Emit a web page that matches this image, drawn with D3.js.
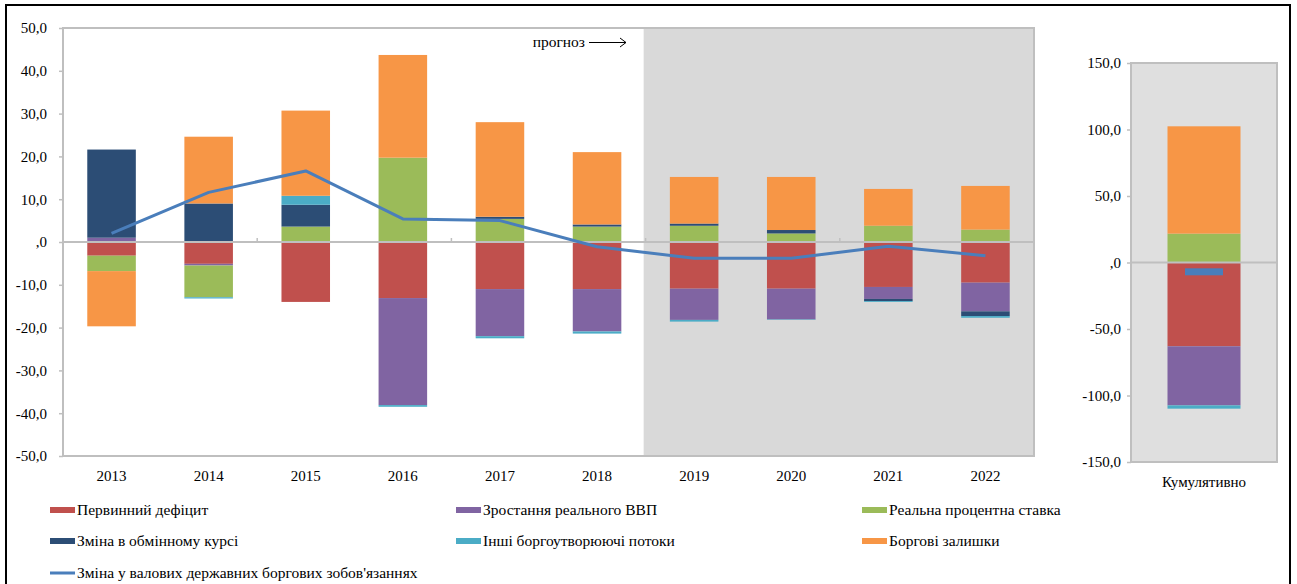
<!DOCTYPE html>
<html>
<head>
<meta charset="utf-8">
<script src="https://cdn.jsdelivr.net/npm/d3@7"></script>
<style>
  body { margin: 0; background: #fff; }
  svg text { font-family: "Liberation Serif", "Times New Roman", "DejaVu Serif", serif !important; fill: #000; }
</style>
</head>
<body>
<svg id="chart" width="1297" height="584"></svg>
<script>
const years = ["2013", "2014", "2015", "2016", "2017", "2018", "2019", "2020", "2021", "2022"];
const forecastFrom = "2019";

const seriesNames = [
  "Первинний дефіцит",
  "Зростання реального ВВП",
  "Реальна процентна ставка",
  "Зміна в обмінному курсі",
  "Інші боргоутворюючі потоки",
  "Боргові залишки"
];
const seriesColors = ["#C0504D", "#8064A2", "#9BBB59", "#2C4D75", "#4BACC6", "#F79646"];

const primaryDeficit   = [-3.2, -5.1, -14.0, -13.1, -11.0, -11.0, -10.9, -10.9, -10.5, -9.5];
const realGdpGrowth    = [1.0, -0.4, 0.0, -25.0, -11.0, -9.9, -7.3, -7.2, -2.8, -6.7];
const realInterestRate = [-3.6, -7.4, 3.6, 19.7, 5.4, 3.6, 3.8, 2.0, 3.8, 2.9];
const exchangeRate     = [20.6, 9.0, 5.1, 0.0, 0.5, 0.5, 0.5, 0.8, -0.5, -1.1];
const otherFlows       = [0.0, -0.3, 2.1, -0.4, -0.5, -0.5, -0.4, -0.1, -0.2, -0.4];
const debtResidual     = [-12.9, 15.6, 19.9, 24.0, 22.1, 16.9, 10.9, 12.4, 8.6, 10.2];

const lineName = "Зміна у валових державних боргових зобов'язаннях";
const lineColor = "#4A7EBB";
const debtChange = [2.0, 11.6, 16.6, 5.4, 5.0, -1.1, -3.8, -3.8, -1.0, -3.2];

const cumulativeLabel = "Кумулятивно";
const cumulativeValues = [-63.0, -44.4, 21.7, 0.0, -2.5, 80.7];
const cumulativeLine = -7.0;

const mainTicks = [-50, -40, -30, -20, -10, 0, 10, 20, 30, 40, 50];
const cumTicks = [-150, -100, -50, 0, 50, 100, 150];

const svg = d3.select("#chart").style("font-family", "Liberation Serif, serif");
const fmt = (d) => (d === 0 ? ",0" : d.toFixed(1).replace(".", ","));
const serif = "Liberation Serif, Times New Roman, serif";

const main = { left: 63, right: 1034, top: 28, bottom: 456 };
const cum = { left: 1131, right: 1277, top: 63, bottom: 462 };

const allSeries = [primaryDeficit, realGdpGrowth, realInterestRate, exchangeRate, otherFlows, debtResidual];
const rows = years.map((y, i) => {
  const r = { year: y };
  allSeries.forEach((s, k) => { r[k] = s[i]; });
  return r;
});

const xscale = d3.scaleBand().domain(years).range([main.left, main.right]).paddingInner(0.5).paddingOuter(0.25);
const yscale = d3.scaleLinear().domain([-50, 50]).range([main.bottom, main.top]);

const cx = d3.scaleBand().domain([cumulativeLabel]).range([cum.left, cum.right]).paddingInner(0.5).paddingOuter(0.25);
const cy = d3.scaleLinear().domain([-150, 150]).range([cum.bottom, cum.top]);

const stack = d3.stack().keys(d3.range(seriesNames.length)).offset(d3.stackOffsetDiverging);

const addFrame = () => {
  // outer black frame
  svg.append("rect")
    .attr("x", 6).attr("y", 5).attr("width", 1284).attr("height", 620)
    .attr("fill", "none").attr("stroke", "#000").attr("stroke-width", 2);

  svg.append("rect")
    .attr("x", main.left).attr("y", main.top)
    .attr("width", main.right - main.left).attr("height", main.bottom - main.top)
    .attr("fill", "#fff");

  const fx = xscale(forecastFrom) - xscale.step() * 0.27;
  svg.append("rect")
    .attr("x", fx).attr("y", main.top)
    .attr("width", main.right - fx).attr("height", main.bottom - main.top)
    .attr("fill", "#D9D9D9");

  svg.append("rect")
    .attr("x", cum.left).attr("y", cum.top)
    .attr("width", cum.right - cum.left).attr("height", cum.bottom - cum.top)
    .attr("fill", "#DFDFDF");
};

const addBars = () => {
  const stacked = stack(rows);
  svg.append("g")
    .selectAll("g")
    .data(stacked)
    .join("g")
    .attr("fill", (d, i) => seriesColors[i])
    .selectAll("rect")
    .data((d) => d)
    .join("rect")
    .attr("x", (d) => xscale(d.data.year))
    .attr("width", xscale.bandwidth())
    .attr("y", (d) => yscale(Math.max(d[0], d[1])))
    .attr("height", (d) => Math.abs(yscale(d[0]) - yscale(d[1])));

  const cumStacked = stack([Object.assign({ year: cumulativeLabel }, cumulativeValues)]);
  svg.append("g")
    .selectAll("rect")
    .data(cumStacked)
    .join("rect")
    .attr("fill", (d, i) => seriesColors[i])
    .attr("x", cx(cumulativeLabel))
    .attr("width", cx.bandwidth())
    .attr("y", (d) => cy(Math.max(d[0][0], d[0][1])))
    .attr("height", (d) => Math.abs(cy(d[0][0]) - cy(d[0][1])));
};

const addAxes = () => {
  // plot borders
  [main, cum].forEach((p) => {
    svg.append("rect")
      .attr("x", p.left).attr("y", p.top)
      .attr("width", p.right - p.left).attr("height", p.bottom - p.top)
      .attr("fill", "none").attr("stroke", "#BFBFBF").attr("stroke-width", 2);
  });

  const yAxis = d3.axisLeft(yscale).tickValues(mainTicks).tickFormat(fmt).tickSize(4).tickPadding(12);
  const gy = svg.append("g").attr("transform", `translate(${main.left},0)`).call(yAxis)
    .attr("font-family", serif).attr("font-size", 15);
  gy.select(".domain").remove();
  gy.selectAll(".tick line").attr("stroke", "#BFBFBF").attr("stroke-width", 1.5);
  gy.selectAll(".tick text").attr("fill", "#000");

  const cAxis = d3.axisLeft(cy).tickValues(cumTicks).tickFormat(fmt).tickSize(4).tickPadding(6);
  const gc = svg.append("g").attr("transform", `translate(${cum.left},0)`).call(cAxis)
    .attr("font-family", serif).attr("font-size", 15);
  gc.select(".domain").remove();
  gc.selectAll(".tick line").attr("stroke", "#BFBFBF").attr("stroke-width", 1.5);
  gc.selectAll(".tick text").attr("fill", "#000");

  // zero lines
  svg.append("line")
    .attr("x1", main.left).attr("x2", main.right)
    .attr("y1", yscale(0)).attr("y2", yscale(0))
    .attr("stroke", "#BFBFBF").attr("stroke-width", 2);
  svg.append("line")
    .attr("x1", cum.left).attr("x2", cum.right)
    .attr("y1", cy(0)).attr("y2", cy(0))
    .attr("stroke", "#BFBFBF").attr("stroke-width", 2);

  // category tick marks on the zero line, every second category
  const step = xscale.step();
  const tickXs = years.map((y) => xscale(y) - step * 0.25).filter((d, i) => i % 2 === 0);
  svg.append("g")
    .selectAll("line")
    .data(tickXs)
    .join("line")
    .attr("x1", (d) => d).attr("x2", (d) => d)
    .attr("y1", yscale(0)).attr("y2", yscale(0) - 4)
    .attr("stroke", "#BFBFBF").attr("stroke-width", 1.5);

  svg.append("g")
    .selectAll("text")
    .data(years)
    .join("text")
    .attr("x", (d) => xscale(d) + xscale.bandwidth() / 2)
    .attr("y", 481)
    .attr("text-anchor", "middle")
    .attr("font-family", serif)
    .attr("font-size", 15)
    .text((d) => d);

  svg.append("text")
    .attr("x", cx(cumulativeLabel) + cx.bandwidth() / 2)
    .attr("y", 487)
    .attr("text-anchor", "middle")
    .attr("font-family", serif)
    .attr("font-size", 15)
    .text(cumulativeLabel);
};

const addLine = () => {
  const line = d3.line()
    .x((d, i) => xscale(years[i]) + xscale.bandwidth() / 2)
    .y((d) => yscale(d));
  svg.append("path")
    .datum(debtChange)
    .attr("d", line)
    .attr("fill", "none")
    .attr("stroke", lineColor)
    .attr("stroke-width", 3)
    .attr("stroke-linejoin", "round");

  // cumulative marker is a short dash
  const mx = cx(cumulativeLabel) + cx.bandwidth() / 2;
  svg.append("rect")
    .attr("x", mx - 19).attr("y", cy(cumulativeLine) - 3.5)
    .attr("width", 38).attr("height", 7)
    .attr("fill", lineColor);
};

const addText = () => {
  svg.append("text")
    .attr("x", 585).attr("y", 47)
    .attr("text-anchor", "end")
    .attr("font-family", serif)
    .attr("font-size", 15.5)
    .text("прогноз");
  svg.append("path")
    .attr("d", "M589,42.5 H626 M620,38 L626,42.5 L620,47")
    .attr("fill", "none").attr("stroke", "#000").attr("stroke-width", 1);
};

const addLegend = () => {
  const items = seriesNames.map((n, i) => ({ name: n, color: seriesColors[i], type: "bar" }));
  items.push({ name: lineName, color: lineColor, type: "line" });
  const colX = [50, 456, 862];
  const rowY = [510, 541, 573];
  const g = svg.append("g")
    .selectAll("g")
    .data(items)
    .join("g")
    .attr("transform", (d, i) => `translate(${colX[i % 3]},${rowY[Math.floor(i / 3)]})`);
  g.append("rect")
    .attr("x", 0)
    .attr("y", (d) => (d.type === "bar" ? -3 : -1.5))
    .attr("width", 25)
    .attr("height", (d) => (d.type === "bar" ? 6 : 3))
    .attr("fill", (d) => d.color);
  g.append("text")
    .attr("x", 27)
    .attr("y", 5)
    .attr("font-family", serif)
    .attr("font-size", 15.5)
    .text((d) => d.name);
};

addFrame();
addBars();
addAxes();
addLine();
addText();
addLegend();
</script>
</body>
</html>
